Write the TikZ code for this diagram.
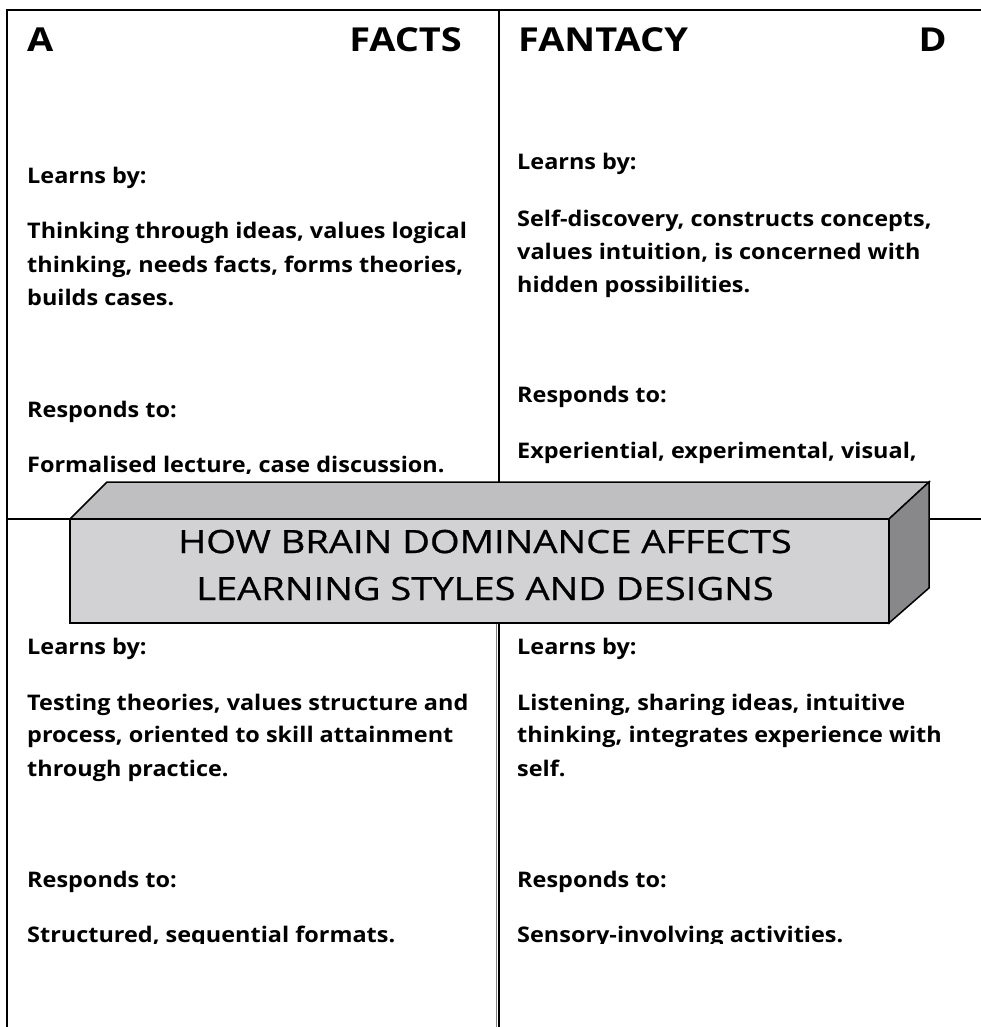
\documentclass[tikz,border=0pt]{standalone}
\usepackage{fontspec}
\setmainfont{Open Sans}
\newfontfamily\bodyfont{Open Sans}[FakeStretch=1.09]
\newfontfamily\headfont{Open Sans}[FakeStretch=1.15]
\newfontfamily\titlefont{Open Sans}[FakeStretch=1.19,FakeBold=0.8]
\usetikzlibrary{positioning}
\definecolor{boxtop}{HTML}{BFBFC1}
\definecolor{boxfront}{HTML}{D2D2D4}
\definecolor{boxside}{HTML}{88888B}
\tikzset{
	txt/.style={anchor=base west,inner sep=0pt,font=\bodyfont\bfseries\fontsize{21.5}{33}\selectfont},
	head/.style={anchor=base west,inner sep=0pt,font=\headfont\bfseries\fontsize{33}{40}\selectfont},
	title/.style={anchor=base,inner sep=0pt,font=\titlefont\fontsize{32}{40}\selectfont},
	rule/.style={line width=1.5pt}
}
\begin{document}
\begin{tikzpicture}[x=1pt,y=-1pt]
\useasboundingbox (0,0) rectangle (981,1027);

%Cadre et quadrants
\draw[rule] (7,1027) -- (7,10) -- (981,10);
\draw[rule] (499,10) -- (499,1027);
\draw[gray,line width=0.8pt] (496,623) -- (496,1027);
\draw[rule] (7,519) -- (981,519);

%Titres des quadrants
\node[head] (A) at (27,52) {A};
\node[head,anchor=base east] (facts) at (462,52) {FACTS};
\node[head] (fantacy) at (518,52) {FANTACY};
\node[head,anchor=base east] (D) at (947,52) {D};

%A
\foreach \y/\t [count=\i] in {183/Learns by:,238/{Thinking through ideas, values logical},272/{thinking, needs facts, forms theories,},305/builds cases.,417/Responds to:}
	\node[txt] (qa\i) at (27,\y) {\t};
\begin{scope}
	\clip (0,440) rectangle (498,473);
	\node[txt] (qa6) at (27,472) {Formalised lecture, case discussion.};
\end{scope}

%D
\foreach \y/\t [count=\i] in {170/Learns by:,226/{Self-discovery, constructs concepts,},259/{values intuition, is concerned with},292/hidden possibilities.,402/Responds to:,458/{Experiential, experimental, visual,}}
	\node[txt] (qd\i) at (517,\y) {\t};

%B
\foreach \y/\t [count=\i] in {654/Learns by:,710/{Testing theories, values structure and},742/{process, oriented to skill attainment},776/through practice.,887/Responds to:}
	\node[txt] (qb\i) at (27,\y) {\t};
\begin{scope}
	\clip (0,900) rectangle (495,943);
	\node[txt] (qb6) at (27,942) {Structured, sequential formats.};
\end{scope}

%C
\foreach \y/\t [count=\i] in {654/Learns by:,710/{Listening, sharing ideas, intuitive},742/{thinking, integrates experience with},776/self.,887/Responds to:}
	\node[txt] (qc\i) at (517,\y) {\t};
\begin{scope}
	\clip (500,900) rectangle (981,943);
	\node[txt] (qc6) at (517,942) {Sensory-involving activities.};
\end{scope}

%Boite 3D
\coordinate (F1) at (70,519);
\coordinate (F2) at (889,519);
\coordinate (F3) at (889,623);
\coordinate (F4) at (70,623);
\coordinate (T1) at (107,482);
\coordinate (T2) at (929,482);
\coordinate (S3) at (929,588);
\filldraw[rule,fill=boxtop] (F1) -- (T1) -- (T2) -- (F2) -- cycle;
\filldraw[rule,fill=boxside] (F2) -- (T2) -- (S3) -- (F3) -- cycle;
\filldraw[rule,fill=boxfront] (F1) -- (F2) -- (F3) -- (F4) -- cycle;
\node[title] (titre1) at (485,553) {HOW BRAIN DOMINANCE AFFECTS};
\node[title] (titre2) at (485,600) {LEARNING STYLES AND DESIGNS};

\end{tikzpicture}
\end{document}
